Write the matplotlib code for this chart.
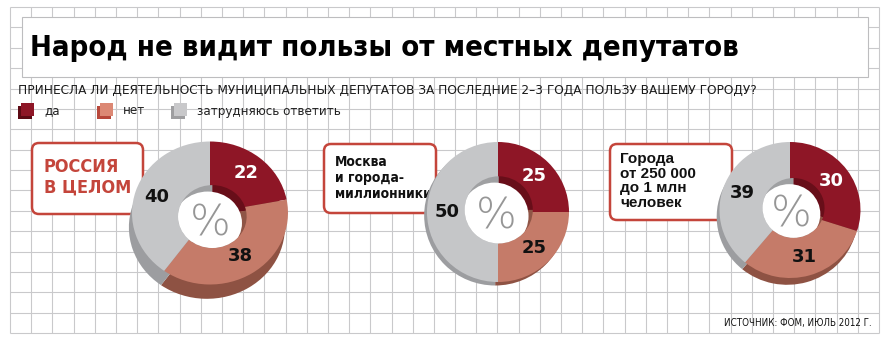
import os
import numpy as np
import matplotlib.pyplot as plt
from matplotlib import font_manager
from matplotlib.patches import Rectangle, FancyBboxPatch, Circle

# survey answers, % of respondents
categories = ['да', 'нет', 'затрудняюсь ответить']
groups = ['РОССИЯ\nВ ЦЕЛОМ', 'Москва\nи города-\nмиллионники', 'Города\nот 250 000\nдо 1 млн\nчеловек']
russia = [22, 38, 40]
moscow = [25, 25, 50]
cities = [30, 31, 39]

title = 'Народ не видит пользы от местных депутатов'
question = 'ПРИНЕСЛА ЛИ ДЕЯТЕЛЬНОСТЬ МУНИЦИПАЛЬНЫХ ДЕПУТАТОВ ЗА ПОСЛЕДНИЕ 2–3 ГОДА ПОЛЬЗУ ВАШЕМУ ГОРОДУ?'
source = 'ИСТОЧНИК: ФОМ, ИЮЛЬ 2012 Г.'

top_colors = ['#8E1626', '#C57B69', '#C5C6C8']
side_colors = ['#5E0C16', '#8E5243', '#9C9DA0']
wall_colors = ['#680E19', '#8F5546', '#9FA0A2']
legend_front = ['#8E1626', '#DC8874', '#C8C8CA']
legend_back = ['#5C0A14', '#B8473A', '#9E9EA0']
box_red = '#C4453B'


def narrow_font(bold, size):
    # look for a condensed / narrow face among the installed files
    for f in font_manager.fontManager.ttflist:
        fn = os.path.basename(f.fname)
        if 'Oblique' in fn or 'Italic' in fn:
            continue
        if ('Condensed' in fn or 'Narrow' in fn) and (('Bold' in fn) == bold):
            return font_manager.FontProperties(fname=f.fname, size=size), True
    return font_manager.FontProperties(family='DejaVu Sans', weight='bold' if bold else 'normal',
                                       size=size * 0.86), False


W, H = 886, 341
fig = plt.figure(figsize=(W / 100, H / 100), dpi=100)
bg = fig.add_axes([0, 0, 1, 1])
bg.set_xlim(0, W)
bg.set_ylim(H, 0)
bg.axis('off')

# squared paper background
gx = np.linspace(10, 879, 42)
gy = np.linspace(7, 333, 17)
bg.vlines(gx, gy[0], gy[-1], color='#C9C9CB', lw=0.8, zorder=0)
bg.hlines(gy, gx[0], gx[-1], color='#C9C9CB', lw=0.8, zorder=0)

# title plate
bg.add_patch(Rectangle((22, 17), 846, 60, facecolor='white', edgecolor='#BDBDBF', lw=0.8, zorder=1))
fp_title, _ = narrow_font(True, 21)
bg.text(30, 48, title, fontproperties=fp_title, va='center', zorder=2)
fp_q, _ = narrow_font(False, 9.7)
bg.text(18, 90, question, fontproperties=fp_q, va='center', color='#1A1A1A', zorder=2)

# legend with little cubes
leg_x = [20, 99, 173]
fp_leg, _ = narrow_font(False, 9.5)
for i, lab in enumerate(categories):
    x = leg_x[i]
    bg.add_patch(Rectangle((x - 2, 106), 14, 13, facecolor=legend_back[i], lw=0, zorder=2))
    bg.add_patch(Rectangle((x + 1, 103), 13, 13, facecolor=legend_front[i], lw=0, zorder=2))
    bg.text(x + 24, 111, lab, fontproperties=fp_leg, va='center', color='#222222', zorder=2)

# caption boxes
boxes = [(32, 143, 111, 71), (324, 144, 112, 69), (610, 144, 122, 76)]
for (x, y, w, h) in boxes:
    bg.add_patch(FancyBboxPatch((x, y), w, h, boxstyle='round,pad=0,rounding_size=7',
                                facecolor='white', edgecolor=box_red, lw=1.8, zorder=2))
fp_box1, _ = narrow_font(True, 13)
fp_box2, _ = narrow_font(True, 10)
bg.text(44, 177, groups[0], fontproperties=fp_box1, color=box_red,
        va='center', linespacing=1.15, zorder=3)
bg.text(335, 178, groups[1], fontproperties=fp_box2, color='#111111',
        va='center', linespacing=1.2, zorder=3)
bg.text(620, 181, groups[2], family='Liberation Sans', fontsize=11, fontweight='bold', color='#111111',
        va='center', linespacing=1.05, zorder=3)

fp_src, _ = narrow_font(False, 7)
bg.text(872, 323, source, fontproperties=fp_src, ha='right', va='center', color='#111111', zorder=3)


def donut(vals, cx, cy, rx, ry, shadow, hole=0.44, hc=(0.0, 0.0), wall=(-0.06, -0.09)):
    L = 1.3
    ax = fig.add_axes([(cx - L * rx) / W, (H - cy - L * ry) / H, 2 * L * rx / W, 2 * L * ry / H])
    kw = dict(startangle=90, counterclock=False, wedgeprops=dict(linewidth=0))
    # extruded side
    ax.pie(vals, colors=side_colors, center=shadow, **kw)
    # top face with values
    _, texts = ax.pie(vals, colors=top_colors, labels=[str(v) for v in vals],
                      labeldistance=0.72, **kw)
    for i, t in enumerate(texts):
        t.set(ha='center', va='center', fontsize=13, fontweight='bold', family='DejaVu Sans',
              color='white' if i == 0 else '#111111')
    # inner wall and the hole
    ax.pie(vals, colors=wall_colors, radius=hole, center=hc, **kw)
    clip = Circle(hc, hole, transform=ax.transData)
    white = Circle((hc[0] + wall[0], hc[1] + wall[1]), hole, facecolor='white', lw=0)
    ax.add_patch(white)
    white.set_clip_path(clip)
    ax.text(hc[0] + wall[0] / 2, hc[1] + wall[1] / 2 - 0.04, '%', family='DejaVu Sans',
            fontweight='light', fontsize=31, color='#969696', ha='center', va='center')
    ax.set_aspect('auto')
    ax.set_xlim(-L, L)
    ax.set_ylim(-L, L)
    ax.axis('off')
    return ax


donut(russia, 210, 213, 78, 71.5, (-0.04, -0.2), hc=(0.03, -0.05))
donut(moscow, 498, 212, 71, 70, (-0.04, -0.05), hole=0.48, hc=(0.01, 0.03))
donut(cities, 790, 210, 70.5, 68, (-0.04, -0.1), hc=(0.05, 0.03))

fig.savefig('out.png', dpi=100)
